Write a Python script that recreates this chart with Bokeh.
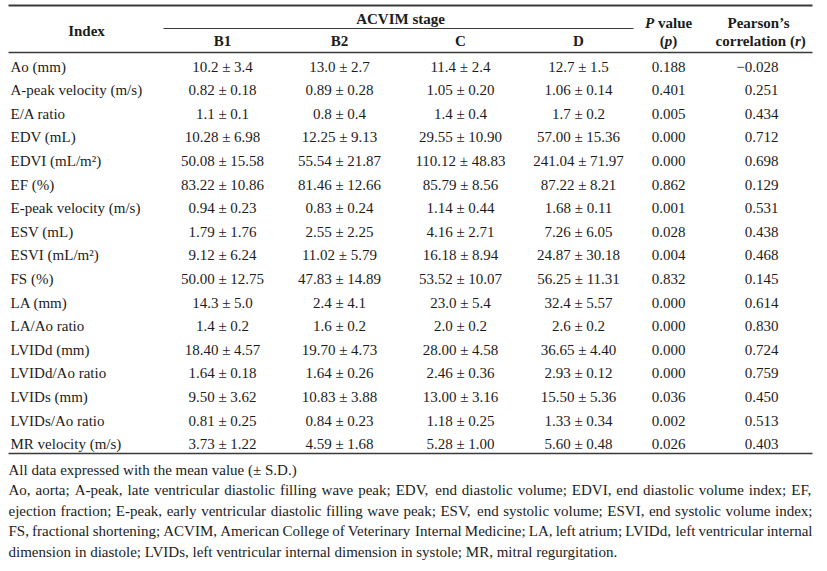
from bokeh.plotting import figure
from bokeh.models import Range1d, ColumnDataSource
from bokeh.core.properties import value
from bokeh.embed import file_html
from bokeh.resources import INLINE

# ---------------- data ----------------
indices = ["Ao (mm)", "A-peak velocity (m/s)", "E/A ratio", "EDV (mL)", "EDVI (mL/m\u00b2)", "EF (%)",
           "E-peak velocity (m/s)", "ESV (mL)", "ESVI (mL/m\u00b2)", "FS (%)", "LA (mm)", "LA/Ao ratio",
           "LVIDd (mm)", "LVIDd/Ao ratio", "LVIDs (mm)", "LVIDs/Ao ratio", "MR velocity (m/s)"]
stages = ["B1", "B2", "C", "D"]
b1 = ["10.2 \u00b1 3.4", "0.82 \u00b1 0.18", "1.1 \u00b1 0.1", "10.28 \u00b1 6.98", "50.08 \u00b1 15.58",
      "83.22 \u00b1 10.86", "0.94 \u00b1 0.23", "1.79 \u00b1 1.76", "9.12 \u00b1 6.24", "50.00 \u00b1 12.75",
      "14.3 \u00b1 5.0", "1.4 \u00b1 0.2", "18.40 \u00b1 4.57", "1.64 \u00b1 0.18", "9.50 \u00b1 3.62",
      "0.81 \u00b1 0.25", "3.73 \u00b1 1.22"]
b2 = ["13.0 \u00b1 2.7", "0.89 \u00b1 0.28", "0.8 \u00b1 0.4", "12.25 \u00b1 9.13", "55.54 \u00b1 21.87",
      "81.46 \u00b1 12.66", "0.83 \u00b1 0.24", "2.55 \u00b1 2.25", "11.02 \u00b1 5.79", "47.83 \u00b1 14.89",
      "2.4 \u00b1 4.1", "1.6 \u00b1 0.2", "19.70 \u00b1 4.73", "1.64 \u00b1 0.26", "10.83 \u00b1 3.88",
      "0.84 \u00b1 0.23", "4.59 \u00b1 1.68"]
c = ["11.4 \u00b1 2.4", "1.05 \u00b1 0.20", "1.4 \u00b1 0.4", "29.55 \u00b1 10.90", "110.12 \u00b1 48.83",
     "85.79 \u00b1 8.56", "1.14 \u00b1 0.44", "4.16 \u00b1 2.71", "16.18 \u00b1 8.94", "53.52 \u00b1 10.07",
     "23.0 \u00b1 5.4", "2.0 \u00b1 0.2", "28.00 \u00b1 4.58", "2.46 \u00b1 0.36", "13.00 \u00b1 3.16",
     "1.18 \u00b1 0.25", "5.28 \u00b1 1.00"]
d = ["12.7 \u00b1 1.5", "1.06 \u00b1 0.14", "1.7 \u00b1 0.2", "57.00 \u00b1 15.36", "241.04 \u00b1 71.97",
     "87.22 \u00b1 8.21", "1.68 \u00b1 0.11", "7.26 \u00b1 6.05", "24.87 \u00b1 30.18", "56.25 \u00b1 11.31",
     "32.4 \u00b1 5.57", "2.6 \u00b1 0.2", "36.65 \u00b1 4.40", "2.93 \u00b1 0.12", "15.50 \u00b1 5.36",
     "1.33 \u00b1 0.34", "5.60 \u00b1 0.48"]
p_values = ["0.188", "0.401", "0.005", "0.000", "0.000", "0.862", "0.001", "0.028", "0.004", "0.832",
            "0.000", "0.000", "0.000", "0.000", "0.036", "0.002", "0.026"]
pearson_r = ["\u22120.028", "0.251", "0.434", "0.712", "0.698", "0.129", "0.531", "0.438", "0.468", "0.145",
             "0.614", "0.830", "0.724", "0.759", "0.450", "0.513", "0.403"]
footnotes = [
    "All data expressed with the mean value (\u00b1 S.D.)",
    "Ao, aorta; A-peak, late ventricular diastolic filling wave peak; EDV, end diastolic volume; EDVI, end diastolic volume index; EF,",
    "ejection fraction; E-peak, early ventricular diastolic filling wave peak; ESV, end systolic volume; ESVI, end systolic volume index;",
    "FS, fractional shortening; ACVIM, American College of Veterinary Internal Medicine; LA, left atrium; LVIDd, left ventricular internal",
    "dimension in diastole; LVIDs, left ventricular internal dimension in systole; MR, mitral regurgitation.",
]
justified = [False, True, True, True, False]

# ---------------- layout ----------------
FONT = value("Liberation Serif")
SIZE = 15
FS = value("15px")
INK = "#1c1c1c"
RULE = "#3a3a3a"

W_PX, H_PX = 819, 563
p = figure(width=W_PX, height=H_PX, output_backend="svg", toolbar_location=None,
           x_range=Range1d(0, W_PX), y_range=Range1d(H_PX, 0), min_border=0)
p.axis.visible = False
p.grid.visible = False
p.outline_line_color = None
p.background_fill_color = "white"

left, right = 8, 812
row_y0, row_dy = 66.0, 23.6
col_x = [222, 339, 460, 578]
p_x = 668
r_right = 778
rows_y = [row_y0 + i * row_dy for i in range(len(indices))]

def txt(xs, ys, texts, align="left", style="normal", size=FS):
    src = ColumnDataSource(dict(x=xs, y=ys, t=texts))
    p.text(x="x", y="y", text="t", source=src, text_font=FONT, text_font_size=size,
           text_align=align, text_baseline="middle", text_color=INK, text_font_style=style)

# approximate Times-compatible advance widths (1/1000 em) used for justifying footnote lines
_w = {" ": 250, "(": 333, ")": 333, ",": 250, "-": 333, ".": 250, "/": 278, ":": 278, ";": 278,
      "\u00b1": 549}
for ch in "0123456789":
    _w[ch] = 500
_w.update(dict(zip("ABCDEFGHIJKLMNOPQRSTUVWXYZ",
                   [722, 667, 667, 722, 611, 556, 722, 722, 333, 389, 722, 611, 889, 722, 722, 556,
                    722, 667, 556, 611, 722, 722, 944, 722, 722, 611])))
_w.update(dict(zip("abcdefghijklmnopqrstuvwxyz",
                   [444, 500, 444, 500, 444, 333, 500, 500, 278, 278, 500, 278, 778, 500, 500, 500,
                    500, 333, 389, 278, 500, 500, 722, 500, 500, 444])))

def text_width(s):
    return sum(_w.get(ch, 500) for ch in s) * SIZE / 1000.0

# rules
p.segment(x0=[left], y0=[5], x1=[right], y1=[5], line_color=RULE, line_width=2)
p.segment(x0=[163], y0=[28], x1=[633], y1=[28], line_color=RULE, line_width=1)
p.segment(x0=[left], y0=[52], x1=[right], y1=[52], line_color=RULE, line_width=1.3)
p.segment(x0=[left], y0=[453], x1=[right], y1=[453], line_color=RULE, line_width=1.3)

# header
txt([86], [30], ["Index"], "center", "bold")
txt([400], [18], ["ACVIM stage"], "center", "bold")
txt(col_x, [40] * 4, stages, "center", "bold")
# "P value"
txt([653.7], [22], ["P"], "right", "bold italic")
txt([657.5], [22], ["value"], "left", "bold")
# "(p)"
txt([664.3], [40], ["("], "right", "bold")
txt([668], [40], ["p"], "center", "bold italic")
txt([671.7], [40], [")"], "left", "bold")
# Pearson's correlation (r)
txt([758], [22], ["Pearson\u2019s"], "center", "bold")
txt([794.4], [40], ["correlation ("], "right", "bold")
txt([794.4], [40], ["r"], "left", "bold italic")
txt([800.2], [40], [")"], "left", "bold")

# body
txt([10] * len(indices), rows_y, indices, "left")
for cx, col in zip(col_x, [b1, b2, c, d]):
    txt([cx] * len(col), rows_y, col, "center")
txt([p_x] * len(p_values), rows_y, p_values, "center")
txt([r_right] * len(pearson_r), rows_y, pearson_r, "right")

# footnotes
foot_y0, foot_dy = 469.0, 20.5
for i, (line, just) in enumerate(zip(footnotes, justified)):
    y = foot_y0 + i * foot_dy
    if not just:
        txt([left], [y], [line], "left")
        continue
    words = line.split(" ")
    widths = [text_width(w_) for w_ in words]
    gap = (right - left - sum(widths)) / (len(words) - 1)
    xs, x = [], float(left)
    for wd in widths:
        xs.append(x)
        x += wd + gap
    txt(xs, [y] * len(words), words, "left")

open("out.html", "w").write(file_html(p, INLINE))
